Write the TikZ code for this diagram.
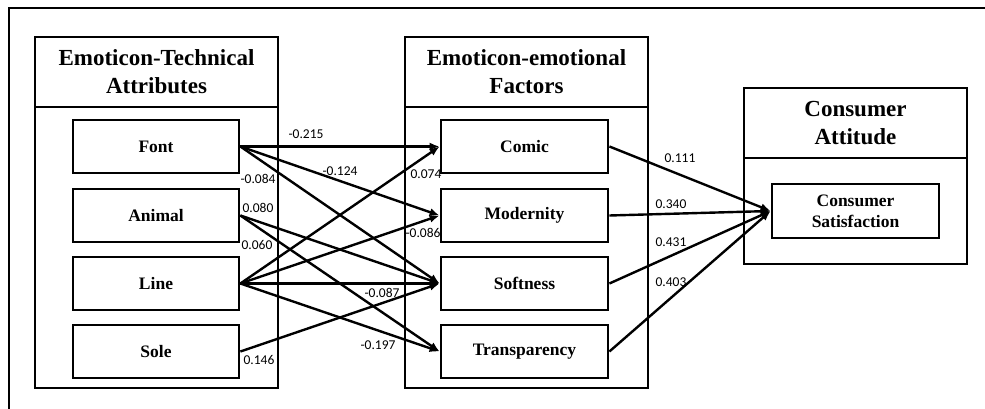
\documentclass[tikz,border=0pt]{standalone}
\usepackage{fontspec}
\setmainfont{Liberation Serif}
\newfontfamily\lblfont{Carlito}
\usetikzlibrary{arrows.meta}
\begin{document}
\begin{tikzpicture}[x=1pt,y=-1pt,
  frameline/.style={line width=2.8pt},
  hdr/.style={draw, line width=2.8pt, inner sep=0pt, align=center,
    font=\bfseries\fontsize{23}{28}\selectfont},
  grp/.style={draw, line width=2.8pt, inner sep=0pt},
  item/.style={draw, line width=2.8pt, inner sep=0pt, align=center,
    minimum height=53, font=\bfseries\fontsize{17.5}{21}\selectfont},
  arr/.style={line width=2.4pt, -{Latex[length=10pt,width=8pt]}},
  lbl/.style={inner sep=0pt, font=\lblfont\fontsize{13.5}{15}\selectfont}]
\useasboundingbox (0,0) rectangle (985,409);
\draw[frameline] (9,409) -- (9,8) -- (985,8);
% left group
\node[hdr, minimum width=243, minimum height=70] (lh) at (156.5,72) {Emoticon-Technical\\Attributes};
\node[grp, minimum width=243, minimum height=281] (lb) at (156.5,247.5) {};
\node[item, minimum width=166] (font) at (156,146.5) {Font};
\node[item, minimum width=166] (animal) at (156,215.5) {Animal};
\node[item, minimum width=166] (line) at (156,283.5) {Line};
\node[item, minimum width=166] (sole) at (156,351.5) {Sole};
% middle group
\node[hdr, minimum width=243, minimum height=70] (mh) at (526.5,72) {Emoticon-emotional\\Factors};
\node[grp, minimum width=243, minimum height=281] (mb) at (526.5,247.5) {};
\node[item, minimum width=167] (comic) at (524.5,146.5) {Comic};
\node[item, minimum width=167] (modern) at (524.5,215.5) {Modernity};
\node[item, minimum width=167] (soft) at (524.5,283.5) {Softness};
\node[item, minimum width=167] (transp) at (524.5,351.5) {Transparency};
% right group
\node[hdr, minimum width=223, minimum height=70] (rh) at (855.5,123) {Consumer\\Attitude};
\node[grp, minimum width=223, minimum height=106] (rb) at (855.5,211) {};
\node[item, minimum width=167, minimum height=54, font=\bfseries\fontsize{17.5}{21}\selectfont] (cs) at (855.5,211) {Consumer\\Satisfaction};
% arrows left -> middle
\draw[arr] (font.east) -- (comic.west);
\draw[arr] (font.east) -- (modern.west);
\draw[arr] (font.east) -- (soft.west);
\draw[arr] (animal.east) -- (soft.west);
\draw[arr] (animal.east) -- (transp.west);
\draw[arr] (line.east) -- (comic.west);
\draw[arr] (line.east) -- (modern.west);
\draw[arr] (line.east) -- (soft.west);
\draw[arr] (line.east) -- (transp.west);
\draw[arr] (sole.east) -- (soft.west);
% arrows middle -> right
\draw[arr] (comic.east) -- (cs.west);
\draw[arr] (modern.east) -- (cs.west);
\draw[arr] (soft.east) -- (cs.west);
\draw[arr] (transp.east) -- (cs.west);
% labels
\node[lbl] (l1) at (306,134) {-0.215};
\node[lbl] (l2) at (340,171) {-0.124};
\node[lbl] (l3) at (258,179) {-0.084};
\node[lbl] (l4) at (258,208) {0.080};
\node[lbl] (l5) at (257,245) {0.060};
\node[lbl] (l6) at (426,174) {0.074};
\node[lbl] (l7) at (423,233) {-0.086};
\node[lbl] (l8) at (382,293) {-0.087};
\node[lbl] (l9) at (378,345) {-0.197};
\node[lbl] (l10) at (259,360) {0.146};
\node[lbl] (l11) at (680,158) {0.111};
\node[lbl] (l12) at (671,204) {0.340};
\node[lbl] (l13) at (671,242) {0.431};
\node[lbl] (l14) at (671,282) {0.403};
\end{tikzpicture}
\end{document}
